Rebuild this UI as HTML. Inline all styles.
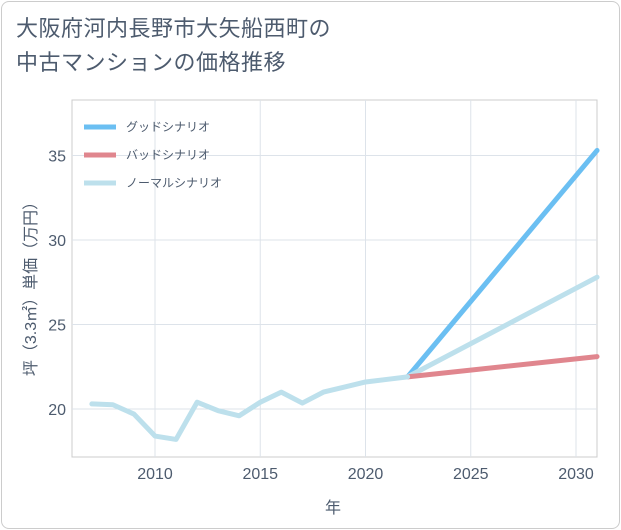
<!DOCTYPE html>
<html><head><meta charset="utf-8"><style>
body{margin:0;background:#fff;font-family:"Liberation Sans","Noto Sans CJK JP",sans-serif;}
#card{position:absolute;left:1px;top:1px;width:617px;height:526px;border:1px solid #ccc;border-radius:8px;background:#fff;}
#title{position:absolute;left:16px;top:12px;font-size:22px;line-height:34px;color:#4d5b6e;letter-spacing:0.5px;}
</style></head><body>
<div id="card"></div>
<div id="title">大阪府河内長野市大矢船西町の<br>中古マンションの価格推移</div>
<svg id="chart" width="621" height="530" style="position:absolute;left:0;top:0"></svg>
<script>
const years=[2007,2008,2009,2010,2011,2012,2013,2014,2015,2016,2017,2018,2019,2020,2021,2022];
const normalHist=[20.3,20.25,19.7,18.4,18.2,20.4,19.9,19.6,20.4,21.0,20.35,21.0,21.3,21.6,21.75,21.9];
const projYears=[2022,2031];
const goodVals=[21.9,35.3];
const badVals=[21.9,23.1];
const normVals=[21.9,27.8];
const xTicks=[2010,2015,2020,2025,2030];
const yTicks=[20,25,30,35];
const L=72,R=597,T=100,B=457;
const x=v=>155+(v-2010)*21.05;
const y=v=>409-(v-20)*16.9;
const svg=document.getElementById('chart');
const NS='http://www.w3.org/2000/svg';
const TC='#4d5b6e';
function mk(t,a,p){const e=document.createElementNS(NS,t);for(const k in a)e.setAttribute(k,a[k]);(p||svg).appendChild(e);return e;}
let e=mk('rect',{x:L,y:T,width:R-L,height:B-T,fill:'none',stroke:'#ccc'});


xTicks.forEach(t=>{mk('line',{x1:x(t),x2:x(t),y1:T,y2:B,stroke:'#dde3ea'});
const tx=mk('text',{x:x(t),y:479,'text-anchor':'middle','font-size':16,fill:TC});tx.textContent=t;

});
yTicks.forEach(t=>{mk('line',{x1:L,x2:R,y1:y(t),y2:y(t),stroke:'#dde3ea'});
const tx=mk('text',{x:66,y:y(t)+6,'text-anchor':'end','font-size':16,fill:TC});tx.textContent=t;

});
let xt=mk('text',{x:333,y:513,'text-anchor':'middle','font-size':16,fill:TC});xt.textContent='年';


let yt=mk('text',{x:0,y:0,'text-anchor':'middle','font-size':16,fill:TC,transform:'translate(36,285) rotate(-90)'});yt.textContent='坪（3.3㎡）単価（万円）';


function line(xs,vs,c,w,name){const p=mk('polyline',{points:xs.map((v,i)=>x(v)+','+y(vs[i])).join(' '),fill:'none',stroke:c,'stroke-width':w,'stroke-linejoin':'round','stroke-linecap':'round'});

}
line(projYears,goodVals,'#6bbff2',5,'good-scenario-line');
line(projYears,normVals,'#bde0ec',5,'normal-scenario-line');
line(projYears,badVals,'#e0868e',5,'bad-scenario-line');
line(years,normalHist,'#bde0ec',5,'history-line');
[['グッドシナリオ','#6bbff2',127],['バッドシナリオ','#e0868e',155],['ノーマルシナリオ','#bde0ec',183]].forEach(l=>{
const g=mk('g',{});


mk('line',{x1:84,x2:116,y1:l[2],y2:l[2],stroke:l[1],'stroke-width':5},g);
const t=mk('text',{x:126,y:l[2]+4,'font-size':12,fill:TC},g);t.textContent=l[0];});
</script>
</body></html>
